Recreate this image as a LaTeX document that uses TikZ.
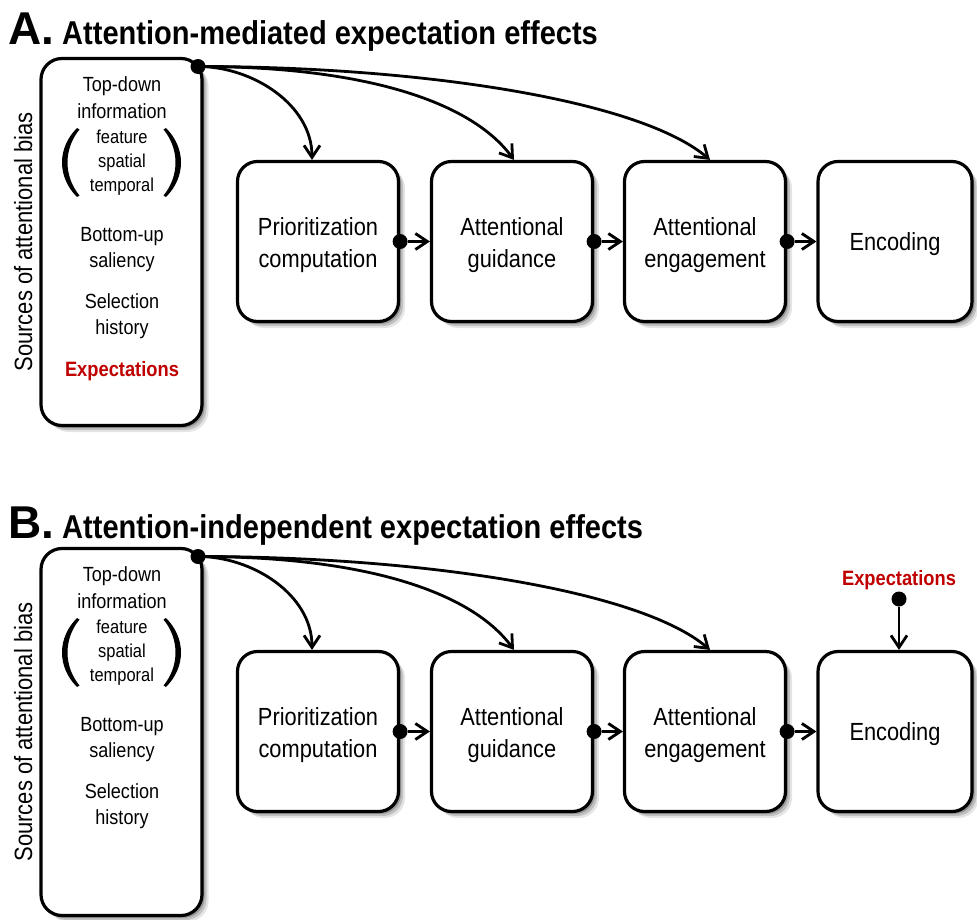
\documentclass[tikz,border=0pt]{standalone}
\usepackage{fontspec}
\setmainfont{Liberation Sans}[FakeStretch=0.88]
\newfontfamily\widefont{Liberation Sans}
\usetikzlibrary{arrows.meta,shadows}
\definecolor{exred}{RGB}{192,0,0}
\tikzset{
  softshadow/.style={
    drop shadow={shadow xshift=2.5bp,shadow yshift=-2.5bp,opacity=.22,fill=black},
    drop shadow={shadow xshift=4.5bp,shadow yshift=-4.5bp,opacity=.16,fill=black},
    drop shadow={shadow xshift=6.5bp,shadow yshift=-6.5bp,opacity=.10,fill=black}},
  stagebox/.style={draw, line width=3.2bp, rounded corners=20bp, fill=white, softshadow,
    inner sep=0pt, minimum width=161bp, minimum height=160bp},
  stagetext/.style={align=center, inner sep=0pt, font=\fontsize{24.8bp}{32bp}\selectfont},
  srcbox/.style={draw, line width=3.2bp, rounded corners=21bp, fill=white, softshadow,
    inner sep=0pt, minimum width=161bp, minimum height=367bp},
  srctext/.style={anchor=base, inner sep=0pt, font=\fontsize{20.5bp}{24bp}\selectfont},
  subtext/.style={anchor=base, inner sep=0pt, font=\fontsize{18.7bp}{22bp}\selectfont},
  exptext/.style={anchor=base, inner sep=0pt, text=exred, font=\bfseries\fontsize{20.8bp}{24bp}\selectfont},
  dotnode/.style={circle, fill=black, inner sep=0pt, minimum size=15bp},
  conn/.style={line width=2.8bp, -{Straight Barb[length=12bp,width=16bp]}},
  paren/.style={fill=black},
}
\begin{document}
\begin{tikzpicture}[x=1bp,y=-1bp]
\useasboundingbox (0,0) rectangle (977,920);

% titles
\node[anchor=base west, inner sep=0pt, font=\widefont\bfseries\fontsize{46bp}{46bp}\selectfont] (tA) at (8,44) {A.};
\node[anchor=base west, inner sep=0pt, font=\bfseries\fontsize{33bp}{33bp}\selectfont] (tA2) at (62,44) {Attention-mediated expectation effects};
\node[anchor=base west, inner sep=0pt, font=\widefont\bfseries\fontsize{46bp}{46bp}\selectfont] (tB) at (8,538) {B.};
\node[anchor=base west, inner sep=0pt, font=\bfseries\fontsize{33bp}{33bp}\selectfont] (tB2) at (62,538) {Attention-independent expectation effects};

\foreach \p/\dy in {A/0,B/490}{
  % source box
  \node[srcbox] (\p-src) at (121.5,242+\dy) {};
  \node[rotate=90, anchor=base, inner sep=0pt, font=\fontsize{25bp}{30bp}\selectfont] (\p-lab) at (32,242+\dy) {Sources of attentional bias};
  \node[srctext] (\p-t1) at (122,91+\dy) {Top-down};
  \node[srctext] (\p-t2) at (122,118+\dy) {information};
  \node[subtext] (\p-t3) at (122,143+\dy) {feature};
  \node[subtext] (\p-t4) at (122,167+\dy) {spatial};
  \node[subtext] (\p-t5) at (122,191+\dy) {temporal};
  \node[srctext] (\p-t6) at (122,241+\dy) {Bottom-up};
  \node[srctext] (\p-t7) at (122,267+\dy) {saliency};
  \node[srctext] (\p-t8) at (122,308+\dy) {Selection};
  \node[srctext] (\p-t9) at (122,334+\dy) {history};
  % parentheses
  \fill[paren] (77,128+\dy) .. controls (57,148+\dy) and (57,177+\dy) .. (77,197+\dy)
     -- (79.5,195.5+\dy) .. controls (63.5,176+\dy) and (63.5,149+\dy) .. (79.5,129.5+\dy) -- cycle;
  \fill[paren] (166,128+\dy) .. controls (186,148+\dy) and (186,177+\dy) .. (166,197+\dy)
     -- (163.5,195.5+\dy) .. controls (179.5,176+\dy) and (179.5,149+\dy) .. (163.5,129.5+\dy) -- cycle;

  % stage boxes
  \node[stagebox] (\p-b1) at (318,241.5+\dy) {};
  \node[stagebox] (\p-b2) at (512,241.5+\dy) {};
  \node[stagebox] (\p-b3) at (705,241.5+\dy) {};
  \node[stagebox, minimum width=154bp] (\p-b4) at (895,241.5+\dy) {};
  \node[stagetext] (\p-x1) at ([yshift=-4bp]\p-b1.center) {Prioritization\\computation};
  \node[stagetext] (\p-x2) at ([yshift=-4bp]\p-b2.center) {Attentional\\guidance};
  \node[stagetext] (\p-x3) at ([yshift=-4bp]\p-b3.center) {Attentional\\engagement};
  \node[stagetext] (\p-x4) at ([yshift=-3bp]\p-b4.center) {Encoding};

  % chain connectors
  \node[dotnode] (\p-e1) at (\p-b1.east) {};
  \node[dotnode] (\p-e2) at (\p-b2.east) {};
  \node[dotnode] (\p-e3) at (\p-b3.east) {};
  \draw[conn] (\p-e1) -- (\p-b2.west);
  \draw[conn] (\p-e2) -- (\p-b3.west);
  \draw[conn] (\p-e3) -- (\p-b4.west);

  % top-down curves
  \node[dotnode] (\p-d) at (198,66.5+\dy) {};
  \draw[conn] (\p-d.center) .. controls +(55,0) and +(0,-55) .. ([xshift=-6bp]\p-b1.north);
  \draw[conn] (\p-d.center) .. controls +(162,0) and +(-44,-60) .. ([xshift=2bp]\p-b2.north);
  \draw[conn] (\p-d.center) .. controls +(222,0) and +(-70,-60) .. ([xshift=5bp]\p-b3.north);
}

% expectations
\node[exptext] (A-exp) at (122,376) {Expectations};
\node[exptext] (B-exp) at (899,585) {Expectations};
\node[dotnode] (B-ed) at (899,599) {};
\draw[conn] (B-ed) -- (B-b4.north -| B-ed);
\end{tikzpicture}
\end{document}
